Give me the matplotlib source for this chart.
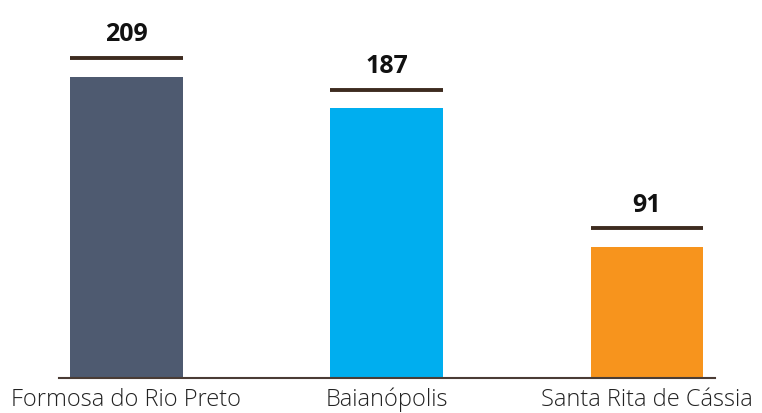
import matplotlib.pyplot as plt

# municipalities and their counts
cities = ['Formosa do Rio Preto', 'Baianópolis', 'Santa Rita de Cássia']
counts = [209, 187, 91]
colors = ['#4e5a70', '#00aeef', '#f7941d']


def main():
    fig = plt.figure(figsize=(7.62, 4.13), dpi=100)
    ax = fig.add_axes([0.0774, 0.0847, 0.861, 0.915])
    x = list(range(len(cities)))
    width = 0.433
    ax.bar(x, counts, width=width, color=colors, zorder=2)

    # dark rule over each bar with the value on top
    pad = 13
    for xi, v in zip(x, counts):
        ax.hlines(v + pad, xi - width / 2, xi + width / 2,
                  color='#3d2b1f', linewidth=2.8, zorder=3)
        ax.annotate(str(v), (xi, v + pad), xytext=(0, 16.5),
                    textcoords='offset points', ha='center', va='center',
                    fontsize=18, fontweight='bold', family='Open Sans',
                    color='#111111')

    ax.set_xlim(-0.2586, 2.262)
    ax.set_ylim(0, 262)
    ax.set_xticks(x)
    ax.set_xticklabels(cities, fontsize=17, fontweight='light',
                       family='Open Sans', color='#222222')
    ax.tick_params(axis='x', length=0, pad=7)
    ax.set_yticks([])
    for side in ['top', 'right', 'left']:
        ax.spines[side].set_visible(False)
    ax.spines['bottom'].set_color('#4a3c35')
    ax.spines['bottom'].set_linewidth(1.5)
    fig.savefig('out.png', dpi=100)


if __name__ == '__main__':
    main()
